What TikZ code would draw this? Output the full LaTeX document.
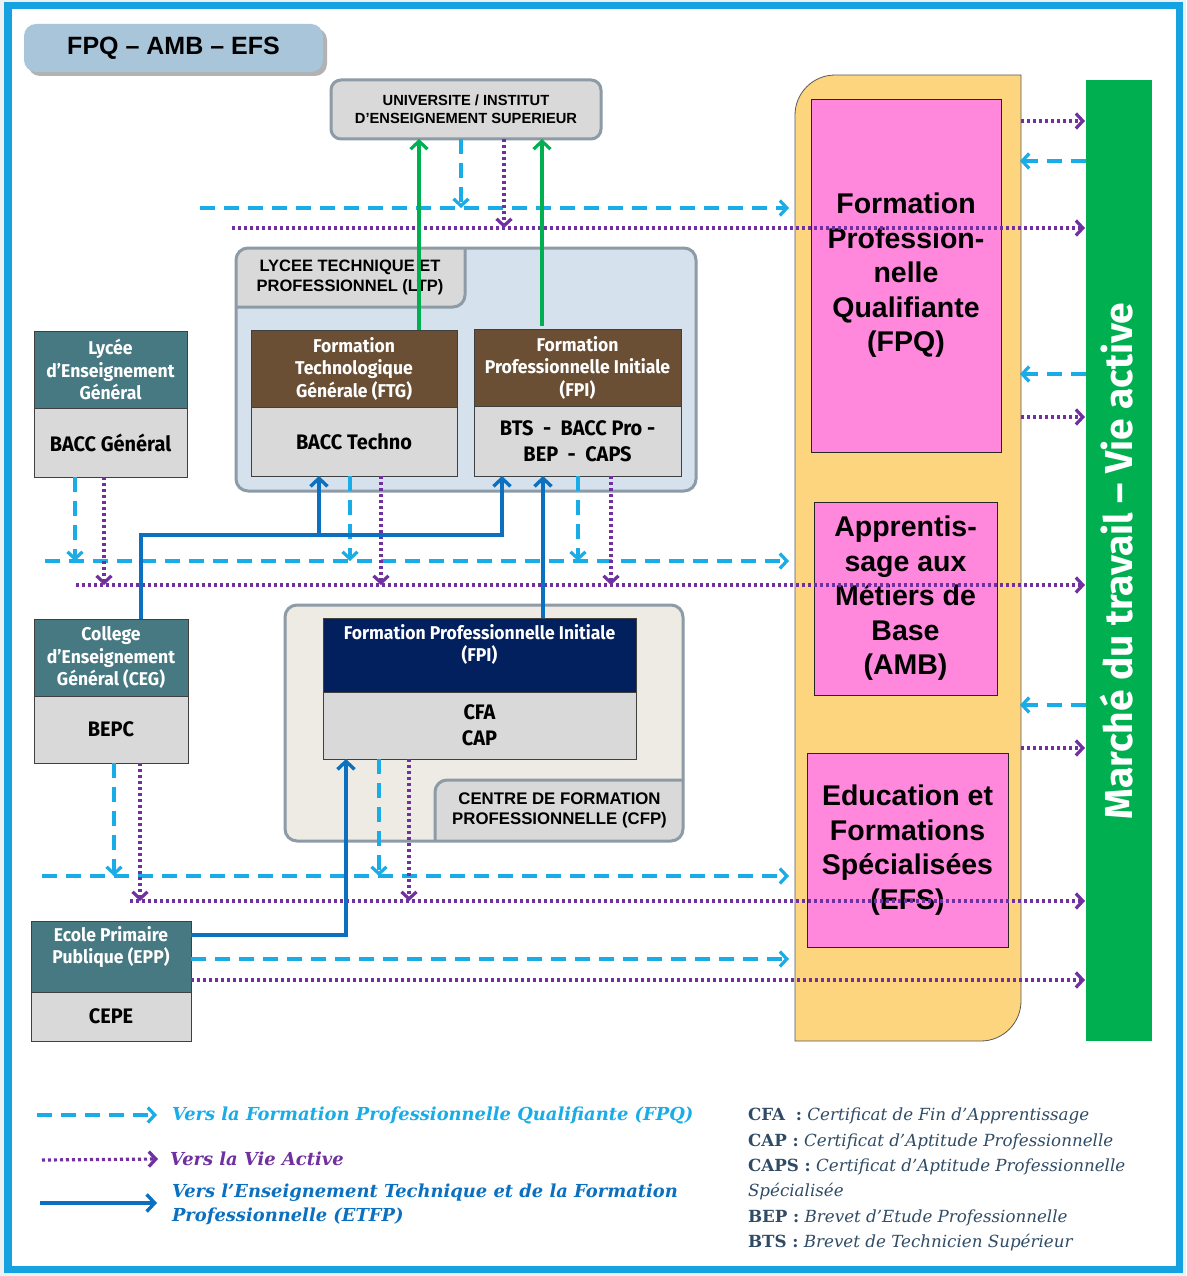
\documentclass[tikz,border=0pt]{standalone}
\usepackage{fontspec}
\setmainfont{Liberation Sans}
\newfontfamily\condf[FakeStretch=0.95]{Fira Sans}
\newfontfamily\firaf{Fira Sans}
\newfontfamily\serf{DejaVu Serif}
\usetikzlibrary{arrows.meta}
\definecolor{cframe}{HTML}{16A2E0}
\definecolor{cbg}{HTML}{EDF1F4}
\definecolor{ctitle}{HTML}{A9C5DA}
\definecolor{cborder}{HTML}{8C9BA6}
\definecolor{cgrey}{HTML}{D9D9D9}
\definecolor{cltp}{HTML}{D5E1ED}
\definecolor{ccfp}{HTML}{EEEAE4}
\definecolor{cteal}{HTML}{477982}
\definecolor{cbrown}{HTML}{6A4F35}
\definecolor{cnavy}{HTML}{03205E}
\definecolor{corange}{HTML}{FED57F}
\definecolor{cpink}{HTML}{FF88DC}
\definecolor{cgreen}{HTML}{00B050}
\definecolor{cfpq}{HTML}{19ACE6}
\definecolor{cva}{HTML}{7030A0}
\definecolor{cetfp}{HTML}{0B70BF}
\definecolor{cslate}{HTML}{2F4B65}
\begin{document}
\begin{tikzpicture}[x=1pt,y=-1pt,
 every node/.style={inner sep=0pt,outer sep=0pt},
 tipb/.style={-{Straight Barb[length=7pt,width=15pt]}},
 fpqa/.style={draw=cfpq,line width=3.2pt,dash pattern=on 15pt off 9pt,tipb},
 vaa/.style={draw=cva,line width=3.2pt,dash pattern=on 3pt off 3pt,tipb},
 etfpa/.style={draw=cetfp,line width=3.4pt,-{Straight Barb[length=8pt,width=17pt]}},
 greena/.style={draw=cgreen,line width=3.2pt,-{Straight Barb[length=8pt,width=17pt]}},
 hdrtxt/.style={text=white,align=center,font=\condf\bfseries\fontsize{18.5}{22.5}\selectfont},
 hdr/.style={hdrtxt,draw=black!75,line width=0.9pt},
 tealh/.style={hdr,fill=cteal},
 brownh/.style={hdr,fill=cbrown},
 navyh/.style={hdr,fill=cnavy},
 lowbox/.style={draw=black!75,line width=0.9pt,fill=cgrey,align=center,font=\condf\bfseries\fontsize{21}{26}\selectfont},
 capslbl/.style={align=center,font=\bfseries\fontsize{14.7}{18}\selectfont},
 pinkbox/.style={draw=black!85,line width=0.9pt,fill=cpink,align=center,font=\bfseries\fontsize{28.5}{34.5}\selectfont},
 cont/.style={draw=cborder,line width=3pt,rounded corners=12pt},
]
\useasboundingbox (0,0) rectangle (1186,1276);
% frame
\fill[cbg] (0,0) rectangle (1186,1276);
\fill[white] (8,5.5) rectangle (1179.5,1269.5);
\draw[cframe,line width=7.5pt] (8,5.5) rectangle (1179.5,1269.5);

% title
\fill[black!30,rounded corners=12pt] (28,28) rectangle (327,76);
\node[fill=ctitle,rounded corners=12pt,minimum width=299pt,minimum height=48pt,font=\bfseries\fontsize{25}{30}\selectfont] (title) at (173.5,48) {FPQ – AMB – EFS};

% university
\node[draw=cborder,line width=3pt,fill=cgrey,rounded corners=10pt,minimum width=270pt,minimum height=59pt,capslbl] (univ) at (466,109.5) {UNIVERSITE / INSTITUT\\D’ENSEIGNEMENT SUPERIEUR};

% LTP container
\node[fill=cltp,rounded corners=12pt,minimum width=460pt,minimum height=243pt] (ltp) at (466,369.5) {};
\begin{scope}
\clip[rounded corners=12pt] (ltp.north west) rectangle (ltp.south east);
\fill[cgrey] (236,248) -- (465,248) -- (465,295) .. controls (465,301.6) and (459.6,307) .. (453,307) -- (236,307) -- cycle;
\end{scope}
\draw[cborder,line width=3pt] (465,248) -- (465,295) .. controls (465,301.6) and (459.6,307) .. (453,307) -- (236,307);
\draw[cont] (ltp.north west) rectangle (ltp.south east);
\node[font=\bfseries\fontsize{16.5}{20}\selectfont,align=center] (ltptab) at (350,277) {LYCEE TECHNIQUE ET\\PROFESSIONNEL (LTP)};

\node[brownh,minimum width=206pt,minimum height=77pt] (ftgh) at (354,368.5) {Formation\\Technologique\\Générale (FTG)};
\node[lowbox,minimum width=206pt,minimum height=69pt] (ftgl) at (354,441.5) {BACC Techno};
\node[brownh,minimum width=207pt,minimum height=77pt] (fpih) at (577.5,367.5) {Formation\\Professionnelle Initiale\\(FPI)};
\node[lowbox,minimum width=207pt,minimum height=70pt] (fpil) at (577.5,441) {BTS~~-~~BACC Pro -\\BEP~~-~~CAPS};

% left column
\node[tealh,minimum width=153pt,minimum height=77pt] (legh) at (110.5,369.5) {Lycée\\d’Enseignement\\Général};
\node[lowbox,minimum width=153pt,minimum height=69pt] (legl) at (110.5,442.5) {BACC Général};
\node[tealh,minimum width=154pt,minimum height=77pt] (cegh) at (111,657.5) {College\\d’Enseignement\\Général (CEG)};
\node[lowbox,minimum width=154pt,minimum height=67pt] (cegl) at (111,729.5) {BEPC};
\node[tealh,minimum width=160pt,minimum height=71pt] (epph) at (111,956.5) {};
\node[hdrtxt] (eppt) at (111,947) {Ecole Primaire\\Publique (EPP)};
\node[lowbox,minimum width=160pt,minimum height=49pt] (eppl) at (111,1016.5) {CEPE};

% CFP container
\node[fill=ccfp,rounded corners=12pt,minimum width=398pt,minimum height=236pt] (cfp) at (484,723) {};
\begin{scope}
\clip[rounded corners=12pt] (cfp.north west) rectangle (cfp.south east);
\fill[cgrey] (690,780) -- (447,780) .. controls (440.4,780) and (435,785.4) .. (435,792) -- (435,850) -- (690,850) -- cycle;
\end{scope}
\draw[cborder,line width=3pt] (684,780) -- (447,780) .. controls (440.4,780) and (435,785.4) .. (435,792) -- (435,841);
\draw[cont] (cfp.north west) rectangle (cfp.south east);
\node[navyh,minimum width=313pt,minimum height=74pt] (cfph) at (479.5,655) {};
\node[hdrtxt] (cfpht) at (479.5,644.5) {Formation Professionnelle Initiale\\(FPI)};
\node[lowbox,minimum width=313pt,minimum height=67pt] (cfpl) at (479.5,725.5) {CFA\\CAP};
\node[font=\bfseries\fontsize{16.8}{20}\selectfont,align=center] (cfptab) at (559.5,810) {CENTRE DE FORMATION\\PROFESSIONNELLE (CFP)};

% orange column
\fill[corange] (795,1041) -- (795,115) .. controls (795,93) and (813,75) .. (835,75) -- (1021,75) -- (1021,1001) .. controls (1021,1023) and (1003,1041) .. (981,1041) -- cycle;
\draw[black!65,line width=0.8pt] (795,1041) -- (795,115) .. controls (795,93) and (813,75) .. (835,75) -- (1021,75) -- (1021,1001) .. controls (1021,1023) and (1003,1041) .. (981,1041) -- cycle;
\node[minimum width=226pt,minimum height=966pt] (orange) at (908,558) {};
\node[pinkbox,minimum width=190pt,minimum height=353pt] (fpq) at (906,275.5) {Formation\\Profession-\\nelle\\Qualifiante\\(FPQ)};
\node[pinkbox,minimum width=183pt,minimum height=193pt] (amb) at (905.5,598.5) {Apprentis-\\sage aux\\Métiers de\\Base\\(AMB)};
\node[pinkbox,minimum width=201pt,minimum height=194pt] (efs) at (907.5,850) {Education et\\Formations\\Spécialisées\\(EFS)};

% green bar
\node[fill=cgreen,minimum width=66pt,minimum height=961pt] (green) at (1119,560.5) {};
\node[rotate=90,text=white,font=\firaf\bfseries\fontsize{39}{44}\selectfont] (greent) at (1117,561) {Marché du travail – Vie active};

\coordinate (oW) at ([xshift=-6pt]orange.west);
\coordinate (oE) at ([xshift=-1pt]orange.east);
\coordinate (gW) at ([xshift=-1pt]green.west);

% horizontal lines
\coordinate (b1) at (200,208);
\coordinate (p1) at (232,228);
\coordinate (b2) at (45,561);
\coordinate (p2) at (76,585);
\coordinate (b3) at (42,876);
\coordinate (p3) at (130,901);
\coordinate (b4) at (epph.east |- 0,959);
\coordinate (p4) at (epph.east |- 0,980);
\draw[fpqa] (b1) -- (oW |- b1);
\draw[vaa] (p1) -- (gW |- p1);
\draw[fpqa] (b2) -- (oW |- b2);
\draw[vaa] (p2) -- (gW |- p2);
\draw[fpqa] (b3) -- (oW |- b3);
\draw[vaa] (p3) -- (gW |- p3);
\draw[fpqa] (b4) -- (oW |- b4);
\draw[vaa] (p4) -- (gW |- p4);

% orange <-> green
\draw[vaa] (orange.east |- 0,121) -- (gW |- 0,121);
\draw[fpqa] (green.west |- 0,161) -- (oE |- 0,161);
\draw[fpqa] (green.west |- 0,374) -- (oE |- 0,374);
\draw[vaa] (orange.east |- 0,417) -- (gW |- 0,417);
\draw[fpqa] (green.west |- 0,705) -- (oE |- 0,705);
\draw[vaa] (orange.east |- 0,748) -- (gW |- 0,748);

% vertical down arrows
\coordinate (u1) at ([xshift=-5pt]univ.south);
\coordinate (u2) at ([xshift=38pt]univ.south);
\draw[fpqa] (u1) -- (u1 |- b1);
\draw[vaa] (u2) -- (u2 |- p1);
\coordinate (l1) at ([xshift=-35.5pt]legl.south);
\coordinate (l2) at ([xshift=-6.5pt]legl.south);
\draw[fpqa] (l1) -- (l1 |- b2);
\draw[vaa] (l2) -- (l2 |- p2);
\coordinate (t1) at ([xshift=-4pt]ftgl.south);
\coordinate (t2) at ([xshift=27pt]ftgl.south);
\draw[fpqa] (t1) -- (t1 |- b2);
\draw[vaa] (t2) -- (t2 |- p2);
\coordinate (f1) at ([xshift=0.5pt]fpil.south);
\coordinate (f2) at ([xshift=33.5pt]fpil.south);
\draw[fpqa] (f1) -- (f1 |- b2);
\draw[vaa] (f2) -- (f2 |- p2);
\coordinate (c1) at ([xshift=3pt]cegl.south);
\coordinate (c2) at ([xshift=29pt]cegl.south);
\draw[fpqa] (c1) -- (c1 |- b3);
\draw[vaa] (c2) -- (c2 |- p3);
\coordinate (k1) at ([xshift=-100.5pt]cfpl.south);
\coordinate (k2) at ([xshift=-70.5pt]cfpl.south);
\draw[fpqa] (k1) -- (k1 |- b3);
\draw[vaa] (k2) -- (k2 |- p3);

% green arrows to university
\draw[greena] ([xshift=65pt]ftgh.north) -- ([xshift=-47pt]univ.south);
\draw[greena] ([xshift=-35.5pt,yshift=3pt]fpih.north) -- ([xshift=76pt]univ.south);

% ETFP arrows
\coordinate (bj) at (319,535);
\draw[etfpa] ([xshift=30pt]cegh.north) |- (bj) -| ([xshift=-75.5pt]fpil.south);
\draw[etfpa] (bj) -- ([xshift=-35pt]ftgl.south);
\draw[etfpa] ([xshift=63.5pt]cfph.north) -- ([xshift=-34.5pt]fpil.south);
\draw[etfpa] ([yshift=21.5pt]epph.east) -| ([xshift=-133.5pt]cfpl.south);

% legend
\node[anchor=west,text=cfpq,font=\serf\bfseries\itshape\fontsize{17.9}{20}\selectfont] (lt1) at (172,1115) {Vers la Formation Professionnelle Qualifiante (FPQ)};
\coordinate (lg1) at (37,1115);
\draw[fpqa] (lg1) -- ([xshift=-15pt]lt1.west);
\node[anchor=west,text=cva,font=\serf\bfseries\itshape\fontsize{17.9}{20}\selectfont] (lt2) at (170,1159) {Vers la Vie Active};
\coordinate (lg2) at (42,1160);
\draw[vaa] (lg2) -- ([xshift=-12pt]lt2.west);
\node[anchor=west,text=cetfp,align=left,font=\serf\bfseries\itshape\fontsize{17.9}{24}\selectfont] (lt3) at (172,1204) {Vers l’Enseignement Technique et de la Formation\\Professionnelle (ETFP)};
\coordinate (lg3) at (40,1203);
\draw[etfpa] (lg3) -- ([xshift=-15pt]lt3.west |- lg3);

\node[anchor=north west,text=cslate,align=left,font=\serf\fontsize{16.7}{25.4}\selectfont] (abbr) at (748,1108) {%
\textbf{CFA}~~\textbf{:} \textit{Certificat de Fin d’Apprentissage}\\
\textbf{CAP :} \textit{Certificat d’Aptitude Professionnelle}\\
\textbf{CAPS :} \textit{Certificat d’Aptitude Professionnelle}\\
\textit{Spécialisée}\\
\textbf{BEP :} \textit{Brevet d’Etude Professionnelle}\\
\textbf{BTS :} \textit{Brevet de Technicien Supérieur}};
\end{tikzpicture}
\end{document}
